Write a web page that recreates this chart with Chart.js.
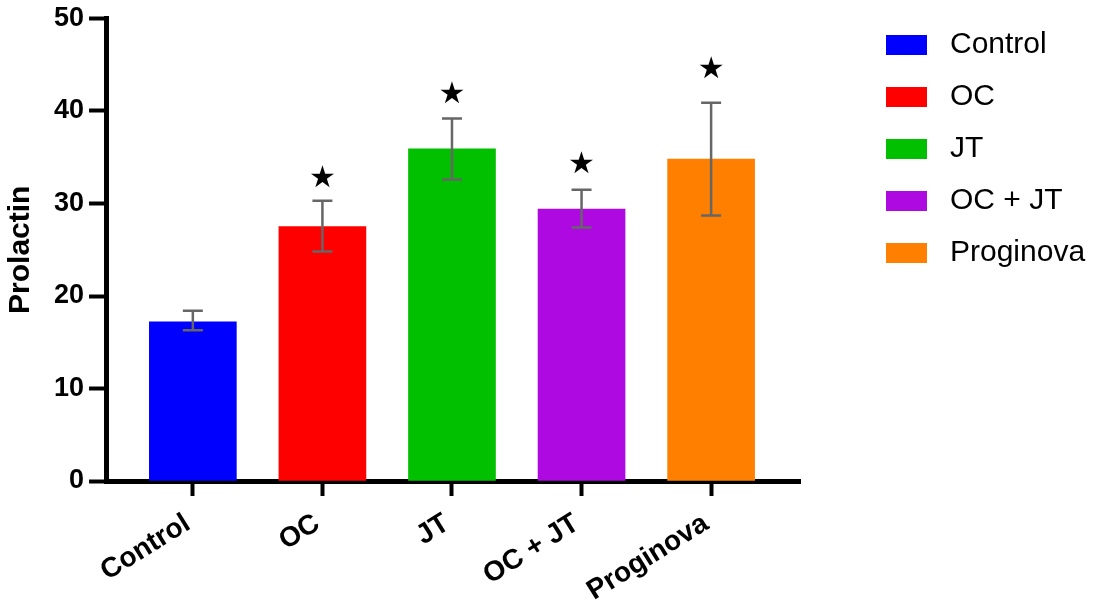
<!DOCTYPE html>
<html>
<head>
<meta charset="utf-8">
<script src="https://cdn.jsdelivr.net/npm/chart.js@4"></script>
<style>
  html, body { margin: 0; padding: 0; background: #fff; }
  #wrap { width: 1094px; height: 601px; }
</style>
</head>
<body>
<div id="wrap"><canvas id="prlCanvas"></canvas></div>
<script>
var groups = ['Control', 'OC', 'JT', 'OC + JT', 'Proginova'];
var prolactin = [17.2, 27.5, 35.9, 29.4, 34.8];
var errLow = [16.3, 24.8, 32.6, 27.4, 28.7];
var errHigh = [18.4, 30.3, 39.2, 31.5, 40.9];
var starAt = [null, 32.6, 41.7, 34.1, 44.4];
var barColors = ['#0000FF', '#FF0000', '#00C000', '#AD09E0', '#FF8000'];

Chart.defaults.font.family = '"Liberation Sans", Arial, sans-serif';
Chart.defaults.color = '#000';

// error bars + significance stars
var errorBars = {
  id: 'errorBars',
  afterDatasetsDraw(chart) {
    var x = chart.scales.x, y = chart.scales.y, ctx = chart.ctx;
    ctx.save();
    ctx.strokeStyle = '#666666';
    ctx.lineWidth = 2.5;
    groups.forEach(function (g, i) {
      var px = x.getPixelForValue(i);
      var top = y.getPixelForValue(errHigh[i]);
      var bot = y.getPixelForValue(errLow[i]);
      ctx.beginPath();
      ctx.moveTo(px, top); ctx.lineTo(px, bot);
      ctx.moveTo(px - 10, top); ctx.lineTo(px + 10, top);
      ctx.moveTo(px - 10, bot); ctx.lineTo(px + 10, bot);
      ctx.stroke();
      if (starAt[i] != null) {
        ctx.fillStyle = '#000';
        ctx.font = '30px "DejaVu Sans"';
        ctx.textAlign = 'center';
        ctx.textBaseline = 'middle';
        ctx.fillText('\u2605', px, y.getPixelForValue(starAt[i]));
      }
    });
    ctx.restore();
  }
};

// legend drawn at the right, one entry per group
var sideLegend = {
  id: 'sideLegend',
  afterDraw(chart) {
    var ctx = chart.ctx;
    ctx.save();
    ctx.font = '30px "Liberation Sans", Arial, sans-serif';
    ctx.textBaseline = 'middle';
    ctx.textAlign = 'left';
    groups.forEach(function (g, i) {
      var cy = 45 + i * 52;
      ctx.fillStyle = barColors[i];
      ctx.fillRect(886, cy - 10, 41, 20);
      ctx.fillStyle = '#000';
      ctx.fillText(g, 950, cy);
    });
    ctx.restore();
  }
};

new Chart(
  document.getElementById('prlCanvas'),
  {
    type: 'bar',
    data: {
      datasets: [
        {
          label: 'Prolactin',
          data: groups.map((g, i) => ({ x: i, y: prolactin[i] })),
          backgroundColor: barColors,
          borderWidth: 0,
          barThickness: 87,
        },
      ]
    },
    options: {
      responsive: true,
      maintainAspectRatio: false,
      animation: false,
      layout: {
        padding: { left: 0, right: 294, top: 18, bottom: 0 }
      },
      plugins: {
        legend: { display: false },
        tooltip: { enabled: false },
      },
      scales: {
        x: {
          type: 'linear',
          offset: false,
          min: -0.67,
          max: 4.686,
          afterBuildTicks: scale => {
            scale.ticks = groups.map((g, i) => ({ value: i }));
          },
          afterFit: scale => {
            scale.height = 120;
          },
          ticks: {
            callback: value => groups[value],
            autoSkip: false,
            minRotation: 32,
            maxRotation: 32,
            padding: 11,
            labelOffset: -5,
            font: { size: 28, weight: 'bold' },
          },
          grid: {
            offset: false,
            drawOnChartArea: false,
            tickLength: 15,
            tickWidth: 4,
            tickColor: '#000',
          },
          border: { color: '#000', width: 5 },
        },
        y: {
          min: 0,
          max: 50,
          ticks: {
            stepSize: 10,
            padding: 5,
            font: { size: 27, weight: 'bold', lineHeight: 1 },
          },
          grid: {
            drawOnChartArea: false,
            tickLength: 17,
            tickWidth: 4,
            tickColor: '#000',
          },
          border: { color: '#000', width: 5 },
          title: {
            display: true,
            text: 'Prolactin',
            font: { size: 30, weight: 'bold' },
            padding: { top: 3, bottom: 10 },
          },
        }
      }
    },
    plugins: [errorBars, sideLegend]
  }
);
</script>
</body>
</html>
